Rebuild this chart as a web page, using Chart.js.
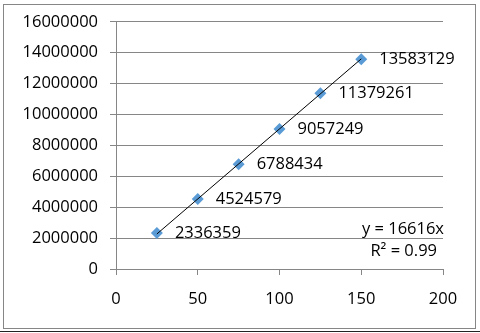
<!DOCTYPE html>
<html>
<head>
<meta charset="utf-8">
<script src="https://cdn.jsdelivr.net/npm/chart.js@4.4.0/dist/chart.umd.min.js"></script>
<style>
html,body{margin:0;padding:0;background:#fff;}
#wrap{position:relative;width:480px;height:333px;}
</style>
</head>
<body>
<div id="wrap"><canvas id="c" width="480" height="333"></canvas></div>
<script>
const xValues = [25, 50, 75, 100, 125, 150];
const yValues = [2336359, 4524579, 6788434, 9057249, 11379261, 13583129];
const trendX = [25, 150];
const trendY = [2268000, 13607000];
const equationText = 'y = 16616x';
const r2Text = 'R² = 0.99';
const xTicks = [0, 50, 100, 150, 200];
const yTicks = [0, 2000000, 4000000, 6000000, 8000000, 10000000, 12000000, 14000000, 16000000];

const FONT = '"Open Sans", Lato, sans-serif';
const FSIZE = 16.5;
const GRID = '#868686';

const framePlugin = {
  id: 'frame',
  beforeDraw(chart) {
    const ctx = chart.ctx;
    ctx.save();
    ctx.fillStyle = '#fff';
    ctx.fillRect(0, 0, chart.width, chart.height);
    ctx.strokeStyle = GRID;
    ctx.lineWidth = 1;
    ctx.strokeRect(3.5, 4.5, 472, 324);
    ctx.strokeStyle = '#222';
    ctx.beginPath();
    ctx.moveTo(0, 331.5);
    ctx.lineTo(480, 331.5);
    ctx.stroke();
    ctx.restore();
  }
};

const labelPlugin = {
  id: 'ptlabels',
  afterDatasetsDraw(chart) {
    const ctx = chart.ctx;
    const meta = chart.getDatasetMeta(1);
    ctx.save();
    ctx.font = FSIZE + 'px ' + FONT;
    ctx.fillStyle = '#000';
    ctx.textBaseline = 'middle';
    ctx.textAlign = 'left';
    meta.data.forEach((pt, i) => {
      ctx.fillText(String(yValues[i]), pt.x + 18, pt.y);
    });
    const xs = chart.scales.x, ys = chart.scales.y;
    ctx.textAlign = 'right';
    ctx.fillText(equationText, xs.getPixelForValue(200) + 1, ys.getPixelForValue(2600000));
    ctx.fillText(r2Text, xs.getPixelForValue(200) - 6, ys.getPixelForValue(1150000));
    ctx.restore();
  }
};

new Chart(document.getElementById('c'), {
  type: 'scatter',
  data: {
    datasets: [
      {
        label: 'trend',
        data: trendX.map((x, i) => ({x: x, y: trendY[i]})),
        showLine: true,
        borderColor: '#000',
        borderWidth: 1,
        pointRadius: 0,
        fill: false
      },
      {
        label: 'data',
        data: xValues.map((x, i) => ({x: x, y: yValues[i]})),
        pointStyle: 'rectRot',
        pointRadius: 6,
        pointBackgroundColor: '#5B9BD5',
        pointBorderColor: '#5B9BD5',
        pointBorderWidth: 0,
        showLine: false
      }
    ]
  },
  options: {
    responsive: false,
    animation: false,
    devicePixelRatio: 1,
    layout: {padding: {left: 0, right: 37, top: 21, bottom: 14}},
    plugins: {legend: {display: false}, tooltip: {enabled: false}},
    scales: {
      x: {
        type: 'linear',
        min: 0, max: 200,
        afterBuildTicks(s) { s.ticks = xTicks.map(v => ({value: v})); },
        afterFit(s) { s.height = 50; },
        grid: {drawOnChartArea: false, drawTicks: true, tickLength: 6, color: GRID, tickColor: GRID},
        border: {color: GRID},
        ticks: {color: '#000', font: {family: FONT, size: FSIZE}, padding: 14, maxRotation: 0, callback: v => String(v)}
      },
      y: {
        type: 'linear',
        min: 0, max: 16000000,
        afterBuildTicks(s) { s.ticks = yTicks.map(v => ({value: v})); },
        afterFit(s) { s.width = 116; },
        grid: {drawOnChartArea: true, drawTicks: true, tickLength: 6, color: GRID, tickColor: GRID},
        border: {color: GRID},
        ticks: {color: '#000', font: {family: FONT, size: FSIZE}, padding: 12, callback: v => String(v)}
      }
    }
  },
  plugins: [framePlugin, labelPlugin]
});
</script>
</body>
</html>
